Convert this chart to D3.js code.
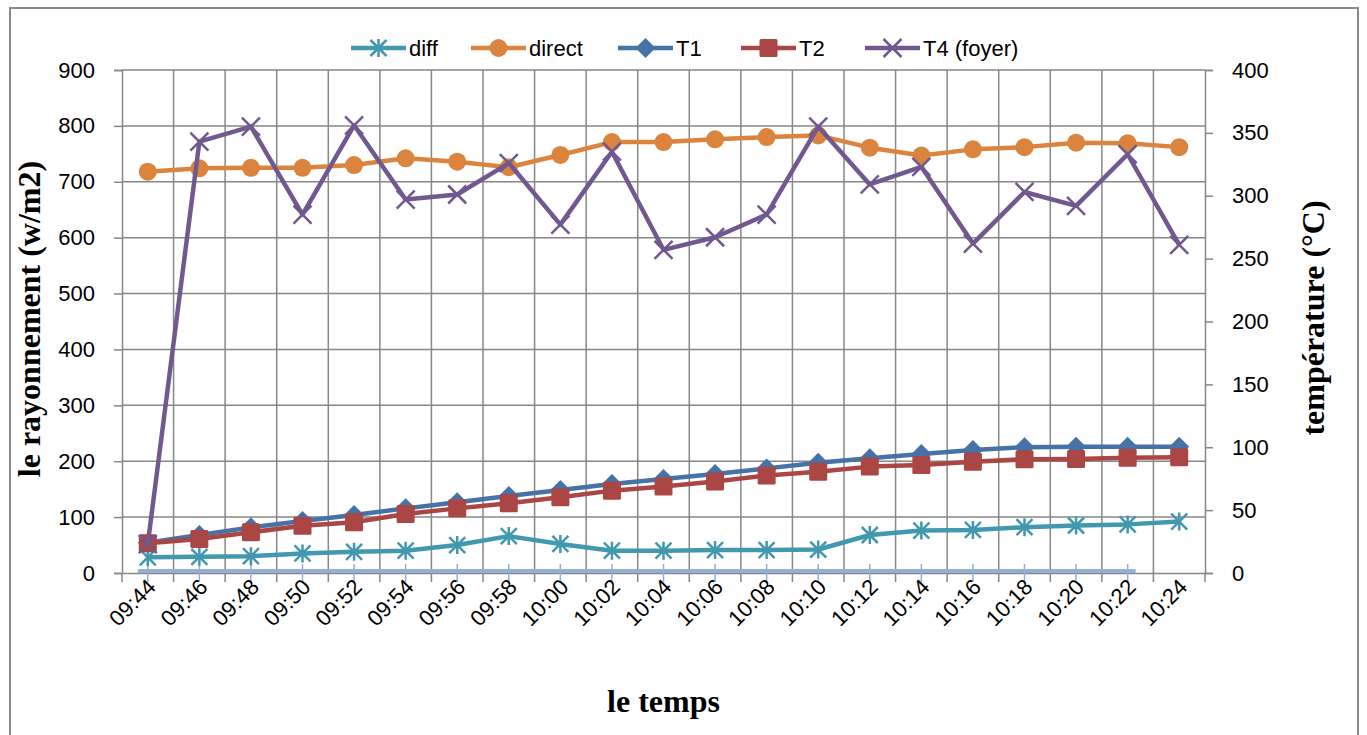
<!DOCTYPE html>
<html>
<head>
<meta charset="utf-8">
<script src="https://cdn.jsdelivr.net/npm/d3@7"></script>
<style>
  html, body { margin: 0; padding: 0; background: #fff; }
  svg { display: block; }
</style>
</head>
<body>
<svg id="chart" width="1367" height="735"></svg>
<script>
// ---- data ----
const categories = ["09:44","09:46","09:48","09:50","09:52","09:54","09:56","09:58","10:00","10:02",
  "10:04","10:06","10:08","10:10","10:12","10:14","10:16","10:18","10:20","10:22","10:24"];
const diff   = [28, 29, 30, 35, 38, 40, 50, 66, 52, 40, 40, 41, 41, 42, 68, 76, 77, 82, 85, 87, 92];
const direct = [718, 724, 725, 725, 730, 742, 736, 726, 748, 771, 771, 776, 780, 783, 761, 747, 758, 762, 770, 769, 762];
const T1     = [24, 30.2, 36.3, 41.4, 46.1, 51.4, 56.2, 61.2, 66, 70.8, 74.8, 78.7, 83.2, 87.7, 91.2, 94.6, 97.8, 100, 100.3, 100.3, 100.3];
const T2     = [23.6, 27, 32.4, 37.6, 40.3, 46.9, 51.4, 55.4, 60.2, 65.5, 68.7, 72.7, 77.5, 80.6, 84.6, 85.9, 88.5, 90.4, 90.7, 91.7, 92];
const T4     = [23, 343, 355, 285, 356, 297, 301, 326, 277, 335, 257, 267, 285, 355, 309, 323, 262, 303, 292, 333, 261];
const leftTicks  = [0, 100, 200, 300, 400, 500, 600, 700, 800, 900];
const rightTicks = [0, 50, 100, 150, 200, 250, 300, 350, 400];
const secondaryAxisCats = categories.slice(0, 20);

// ---- layout ----
const svg = d3.select("#chart");
const L = 122, R = 1205, T = 70, B = 573;
const x = d3.scaleBand().domain(categories).range([L, R]).paddingInner(0).paddingOuter(0);
const cx = c => x(c) + x.bandwidth() / 2;
const yL = d3.scaleLinear().domain([0, 900]).range([B, T]);
const yR = d3.scaleLinear().domain([0, 400]).range([B, T]);

const gridCol = "#878787";
const sans = "'Liberation Sans', Arial, sans-serif";
const serif = "'Liberation Serif', 'Times New Roman', serif";
const fs = 22;

// outer border
svg.append("rect").attr("x", 10).attr("y", 8).attr("width", 1348).attr("height", 740)
  .attr("fill", "none").attr("stroke", "#8a8a8a").attr("stroke-width", 2);

// horizontal gridlines
svg.append("g").selectAll("line").data(leftTicks.filter(d => d > 0)).join("line")
  .attr("x1", L).attr("x2", R).attr("y1", d => yL(d)).attr("y2", d => yL(d))
  .attr("stroke", gridCol).attr("stroke-width", 1.5);
// vertical gridlines at category boundaries
const bounds = categories.slice(1).map(c => x(c));
svg.append("g").selectAll("line").data(bounds).join("line")
  .attr("x1", d => d).attr("x2", d => d).attr("y1", T).attr("y2", B)
  .attr("stroke", gridCol).attr("stroke-width", 1.5);

// left axis
const axL = svg.append("g").attr("transform", `translate(${L},0)`)
  .call(d3.axisLeft(yL).tickValues(leftTicks).tickSize(8).tickPadding(19));
// right axis
const axR = svg.append("g").attr("transform", `translate(${R},0)`)
  .call(d3.axisRight(yR).tickValues(rightTicks).tickSize(8).tickPadding(19));
// bottom axis
const axB = svg.append("g").attr("transform", `translate(0,${B})`)
  .call(d3.axisBottom(x).tickSize(0).tickFormat(""));
[axL, axR, axB].forEach(a => {
  a.select(".domain").attr("stroke", gridCol).attr("stroke-width", 1.5);
  a.selectAll(".tick line").attr("stroke", gridCol).attr("stroke-width", 1.5);
  a.selectAll("text").attr("font-family", sans).attr("font-size", fs).attr("fill", "#000");
});
// bottom ticks at category boundaries
svg.append("g").selectAll("line").data(categories.map(c => x(c)).concat([R])).join("line")
  .attr("x1", d => d).attr("x2", d => d).attr("y1", B).attr("y2", B + 9)
  .attr("stroke", gridCol).attr("stroke-width", 1.5);

// secondary (light blue) category axis
svg.append("line")
  .attr("x1", cx(secondaryAxisCats[0]) - 10).attr("x2", cx(secondaryAxisCats[secondaryAxisCats.length - 1]) + 8)
  .attr("y1", B - 2).attr("y2", B - 2).attr("stroke", "#94aed6").attr("stroke-width", 4);
svg.append("g").selectAll("line").data(secondaryAxisCats).join("line")
  .attr("x1", d => cx(d)).attr("x2", d => cx(d)).attr("y1", B - 9).attr("y2", B + 9)
  .attr("stroke", "#94aed6").attr("stroke-width", 1.5);

// x labels rotated
svg.append("g").selectAll("text").data(categories).join("text")
  .attr("transform", d => `translate(${cx(d) + 4},${B + 10}) rotate(-45)`)
  .attr("text-anchor", "end").attr("dy", "0.35em")
  .attr("font-family", sans).attr("font-size", fs).text(d => d);

// axis titles
svg.append("text").attr("transform", `translate(40,319) rotate(-90)`)
  .attr("text-anchor", "middle").attr("font-family", serif).attr("font-weight", "bold")
  .attr("font-size", 32).text("le rayonnement (w/m2)");
svg.append("text").attr("transform", `translate(1324,318) rotate(-90)`)
  .attr("text-anchor", "middle").attr("font-family", serif).attr("font-weight", "bold")
  .attr("font-size", 32).text("température (°C)");
svg.append("text").attr("x", (L + R) / 2).attr("y", 712)
  .attr("text-anchor", "middle").attr("font-family", serif).attr("font-weight", "bold")
  .attr("font-size", 32).text("le temps");

// ---- series ----
const series = [
  { name: "diff", values: diff, y: yL, color: "#4198af", marker: "star" },
  { name: "direct", values: direct, y: yL, color: "#db843d", marker: "circle" },
  { name: "T1", values: T1, y: yR, color: "#4572a7", marker: "diamond" },
  { name: "T2", values: T2, y: yR, color: "#aa4643", marker: "square" },
  { name: "T4 (foyer)", values: T4, y: yR, color: "#71588f", marker: "x" }
];

function drawMarker(g, type, px, py, color) {
  if (type === "circle") {
    g.append("circle").attr("cx", px).attr("cy", py).attr("r", 9).attr("fill", color);
  } else if (type === "square") {
    g.append("rect").attr("x", px - 9).attr("y", py - 9).attr("width", 18).attr("height", 18)
      .attr("fill", color).attr("rx", 1.5);
  } else if (type === "diamond") {
    g.append("path").attr("d", `M${px},${py - 10}L${px + 10},${py}L${px},${py + 10}L${px - 10},${py}Z`)
      .attr("fill", color);
  } else if (type === "star") {
    const s = 8;
    g.append("path").attr("d",
      `M${px - s},${py - s}L${px + s},${py + s}M${px - s},${py + s}L${px + s},${py - s}M${px},${py - s - 1}L${px},${py + s + 1}`)
      .attr("stroke", color).attr("stroke-width", 2.5).attr("fill", "none");
  } else if (type === "x") {
    const s = 9;
    g.append("path").attr("d",
      `M${px - s},${py - s}L${px + s},${py + s}M${px - s},${py + s}L${px + s},${py - s}`)
      .attr("stroke", color).attr("stroke-width", 2.5).attr("fill", "none");
  }
}

series.forEach(s => {
  const g = svg.append("g");
  const line = d3.line().x((d, i) => cx(categories[i])).y(d => s.y(d));
  g.append("path").datum(s.values).attr("d", line).attr("fill", "none")
    .attr("stroke", s.color).attr("stroke-width", 4.5).attr("stroke-linejoin", "round");
  s.values.forEach((v, i) => drawMarker(g, s.marker, cx(categories[i]), s.y(v), s.color));
});

// ---- legend ----
const legendX = [351, 471, 618, 741, 865];
const legY = 48;
series.forEach((s, i) => {
  const g = svg.append("g");
  const x0 = legendX[i];
  g.append("line").attr("x1", x0).attr("x2", x0 + 55).attr("y1", legY).attr("y2", legY)
    .attr("stroke", s.color).attr("stroke-width", 4.5);
  drawMarker(g, s.marker, x0 + 27.5, legY, s.color);
  g.append("text").attr("x", x0 + 58).attr("y", legY).attr("dy", "0.35em")
    .attr("font-family", sans).attr("font-size", fs).text(s.name);
});
</script>
</body>
</html>
